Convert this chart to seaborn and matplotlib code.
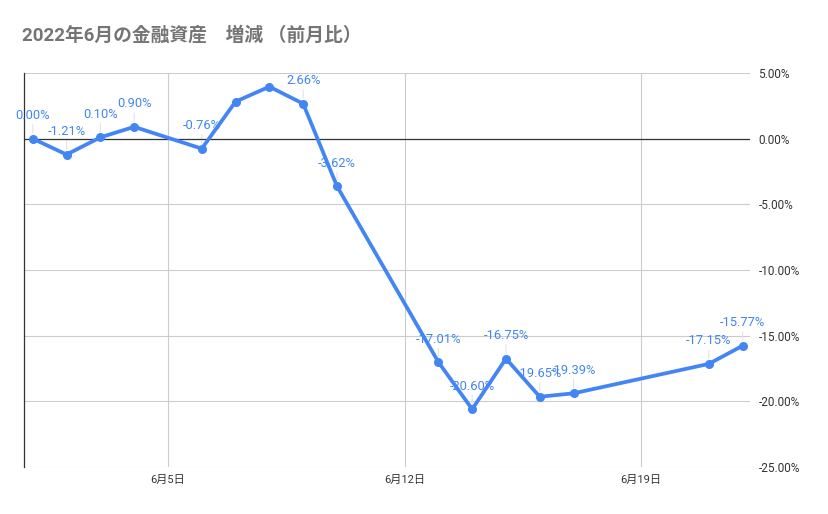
import numpy as np
import pandas as pd
import matplotlib
matplotlib.use("Agg")
import matplotlib.pyplot as plt
import matplotlib.dates as mdates
from matplotlib.ticker import FuncFormatter
import seaborn as sns

# ─── Data ─────────────────────────────────────────────────────────────────────
days = [1, 2, 3, 4, 6, 7, 8, 9, 10, 13, 14, 15, 16, 17, 21, 22]
changes = [0.00, -1.21, 0.10, 0.90, -0.76, 2.82, 3.96, 2.66, -3.62,
           -17.01, -20.60, -16.75, -19.65, -19.39, -17.15, -15.77]
labeled = [True, True, True, True, True, False, False, True, True,
           True, True, True, True, True, True, True]
tick_days = [5, 12, 19]
tick_labels = ["6月5日", "6月12日", "6月19日"]
y_ticks = [5, 0, -5, -10, -15, -20, -25]

TITLE = "2022年6月の金融資産\u3000増減 （前月比）"
BLUE = "#4285F4"
FONTS = ["Roboto", "Noto Sans CJK JP", "DejaVu Sans"]

df = pd.DataFrame({
    "date": pd.to_datetime([f"2022-06-{d:02d}" for d in days]),
    "change": changes,
})

sns.set_style("white")
plt.rcParams["font.family"] = FONTS

fig = plt.figure(figsize=(8.29, 5.14), dpi=100)
ax = fig.add_axes([24 / 829, 1 - 467 / 514, (750 - 24) / 829, (467 - 73) / 514])

sns.lineplot(data=df, x="date", y="change", ax=ax, color=BLUE, lw=2.7,
             marker="o", markersize=6.5, markeredgewidth=0, zorder=5)

# data labels with faint leader lines
for d, v, show in zip(df["date"], df["change"], labeled):
    if not show:
        continue
    ax.annotate(f"{v:.2f}%", xy=(d, v), xytext=(0, 16.5), textcoords="offset points",
                ha="center", va="center", fontsize=9.3, color=BLUE, zorder=6)
    ax.annotate("", xy=(d, v), xytext=(0, 10), textcoords="offset points",
                arrowprops=dict(arrowstyle="-", color="#e3e3e3", lw=0.8,
                                shrinkA=0, shrinkB=4), zorder=1)

start = mdates.date2num(pd.Timestamp("2022-06-01")) - 0.26
end = mdates.date2num(pd.Timestamp("2022-06-22")) + 0.22
ax.set_xlim(start, end)
ax.set_ylim(-25, 5)

ax.set_xticks([mdates.date2num(pd.Timestamp(f"2022-06-{d:02d}")) for d in tick_days])
ax.set_xticklabels(tick_labels, fontsize=8, color="#333333")
ax.set_yticks(y_ticks)
ax.yaxis.tick_right()
ax.yaxis.set_major_formatter(FuncFormatter(lambda v, _: f"{v:.2f}%"))
ax.tick_params(axis="y", labelsize=8.5, labelcolor="#333333", length=0, pad=6)
ax.tick_params(axis="x", length=0, pad=6)

ax.grid(True, color="#cccccc", lw=0.8)
ax.axhline(0, color="#333333", lw=0.9, zorder=2)
for s in ["top", "right", "bottom"]:
    ax.spines[s].set_visible(False)
ax.spines["left"].set_color("#333333")
ax.spines["left"].set_linewidth(0.9)
ax.set_xlabel("")
ax.set_ylabel("")

fig.text(22 / 829, 1 - 35 / 514, TITLE, fontsize=13.5, fontweight="bold",
         color="#757575", ha="left", va="center")

fig.savefig("out.png", dpi=100)
